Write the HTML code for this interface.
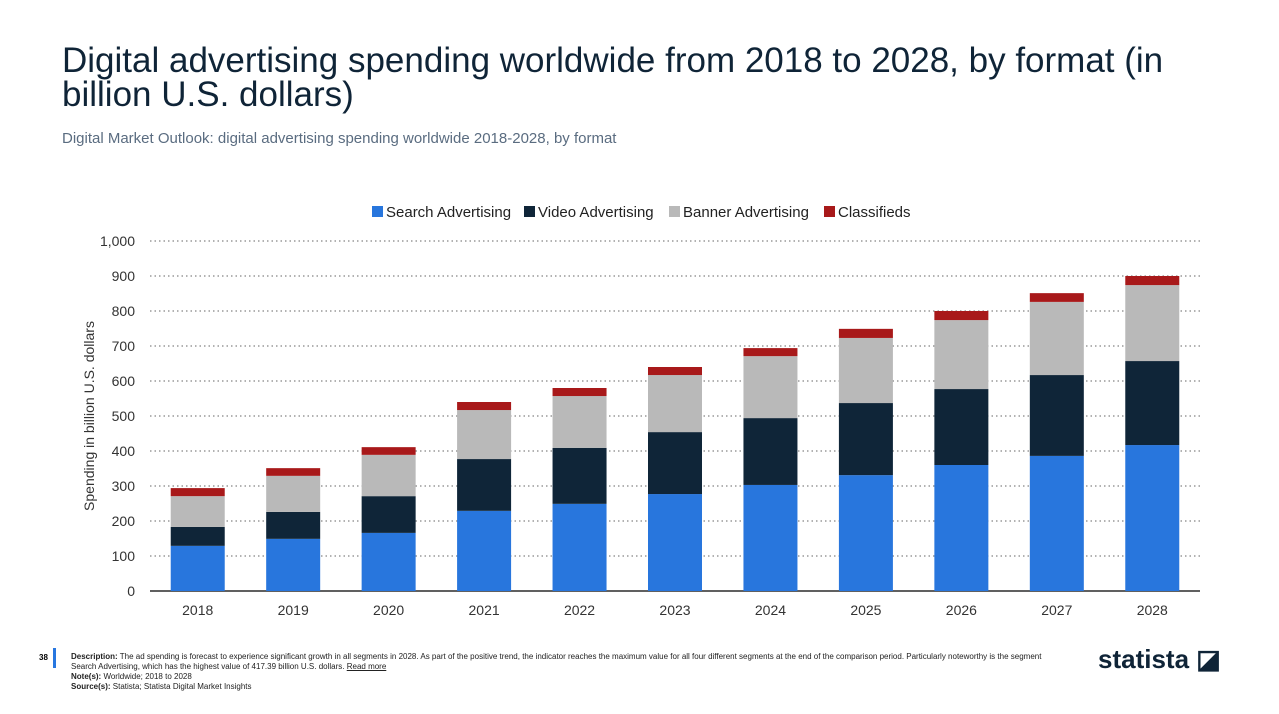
<!DOCTYPE html>
<html><head><meta charset="utf-8"><style>
body{margin:0;width:1279px;height:714px;background:#fff;font-family:"Liberation Sans",sans-serif;overflow:hidden;position:relative}
#title{position:absolute;left:62px;top:44px;font-size:35px;line-height:34px;color:#0f2437;width:1150px}
#sub{position:absolute;left:62px;top:130px;font-size:15px;color:#5a6c80}
#foot{position:absolute;left:71px;top:652px;font-size:8px;line-height:10px;color:#222;width:990px}
#pg{position:absolute;left:39px;top:653px;font-size:8px;font-weight:bold}
#bar{position:absolute;left:53px;top:648px;width:3px;height:20px;background:#2877e0}
#logo{position:absolute;left:1098px;top:644px;font-size:26px;font-weight:bold;color:#0f2437}
</style></head><body>
<div id="title">Digital advertising spending worldwide from 2018 to 2028, by format (in billion U.S. dollars)</div>
<div id="sub">Digital Market Outlook: digital advertising spending worldwide 2018-2028, by format</div>
<svg id="chart" width="1279" height="714" style="position:absolute;left:0;top:0"></svg>
<div id="pg">38</div>
<div id="bar"></div>
<div id="foot"><b>Description:</b> The ad spending is forecast to experience significant growth in all segments in 2028. As part of the positive trend, the indicator reaches the maximum value for all four different segments at the end of the comparison period. Particularly noteworthy is the segment Search Advertising, which has the highest value of 417.39 billion U.S. dollars. <u>Read more</u><br><b>Note(s):</b> Worldwide; 2018 to 2028<br><b>Source(s):</b> Statista; Statista Digital Market Insights</div>
<div id="logo">statista ◪</div>
<script>
const years=["2018","2019","2020","2021","2022","2023","2024","2025","2026","2027","2028"];
const search=[129,149,166,229,249,277,303,331,360,386,417];
const video=[54,77,105,148,160,177,191,206,217,231,240];
const banner=[88,103,118,140,148,163,177,186,197,209,217];
const classified=[23,22,22,23,23,23,23,26,26,25,26];
const yTicks=[0,100,200,300,400,500,600,700,800,900,1000];
const seriesNames=["Search Advertising","Video Advertising","Banner Advertising","Classifieds"];
const colors=["#2876dd","#0f2538","#b9b9b9","#a8191a"];
const svg=document.getElementById('chart'),NS="http://www.w3.org/2000/svg";
const x0=150,x1=1200,yb=591,yt=241;
const y=v=>yb-(v/1000)*(yb-yt);
const step=(x1-x0)/years.length;
const xc=i=>x0+step*(i+0.5);
function el(t,a,p){const e=document.createElementNS(NS,t);for(const k in a)e.setAttribute(k,a[k]);(p||svg).appendChild(e);return e;}
yTicks.forEach(v=>{
 if(v>0){const l=el('line',{x1:x0,x2:x1,y1:y(v),y2:y(v),stroke:'#666','stroke-dasharray':'1.5,3','stroke-width':1});
 
 }
 const t=el('text',{x:135,y:y(v)+5,'text-anchor':'end','font-size':14,fill:'#333'});t.textContent=v.toLocaleString('en-US');
 
 
});
const ax=el('line',{x1:x0,x2:x1,y1:yb,y2:yb,stroke:'#000','stroke-width':1.2});


const yl=el('text',{x:0,y:0,transform:'translate(94,416) rotate(-90)','text-anchor':'middle','font-size':14,fill:'#333'});yl.textContent='Spending in billion U.S. dollars';


const series=[search,video,banner,classified];
years.forEach((yr,i)=>{
 let base=0;
 series.forEach((s,k)=>{
  const r=el('rect',{x:xc(i)-27,width:54,y:y(base+s[i]),height:y(base)-y(base+s[i]),fill:colors[k]});
  
  
  base+=s[i];
 });
 const t=el('text',{x:xc(i),y:615,'text-anchor':'middle','font-size':14,fill:'#333'});t.textContent=yr;
 
 
});
const lx=[372,524,669,824];
seriesNames.forEach((n,k)=>{
 const r=el('rect',{x:lx[k],y:206,width:11,height:11,fill:colors[k]});
 
 
 const t=el('text',{x:lx[k]+14,y:217,'font-size':15,fill:'#222'});t.textContent=n;
 
 
});
</script>
</body></html>
